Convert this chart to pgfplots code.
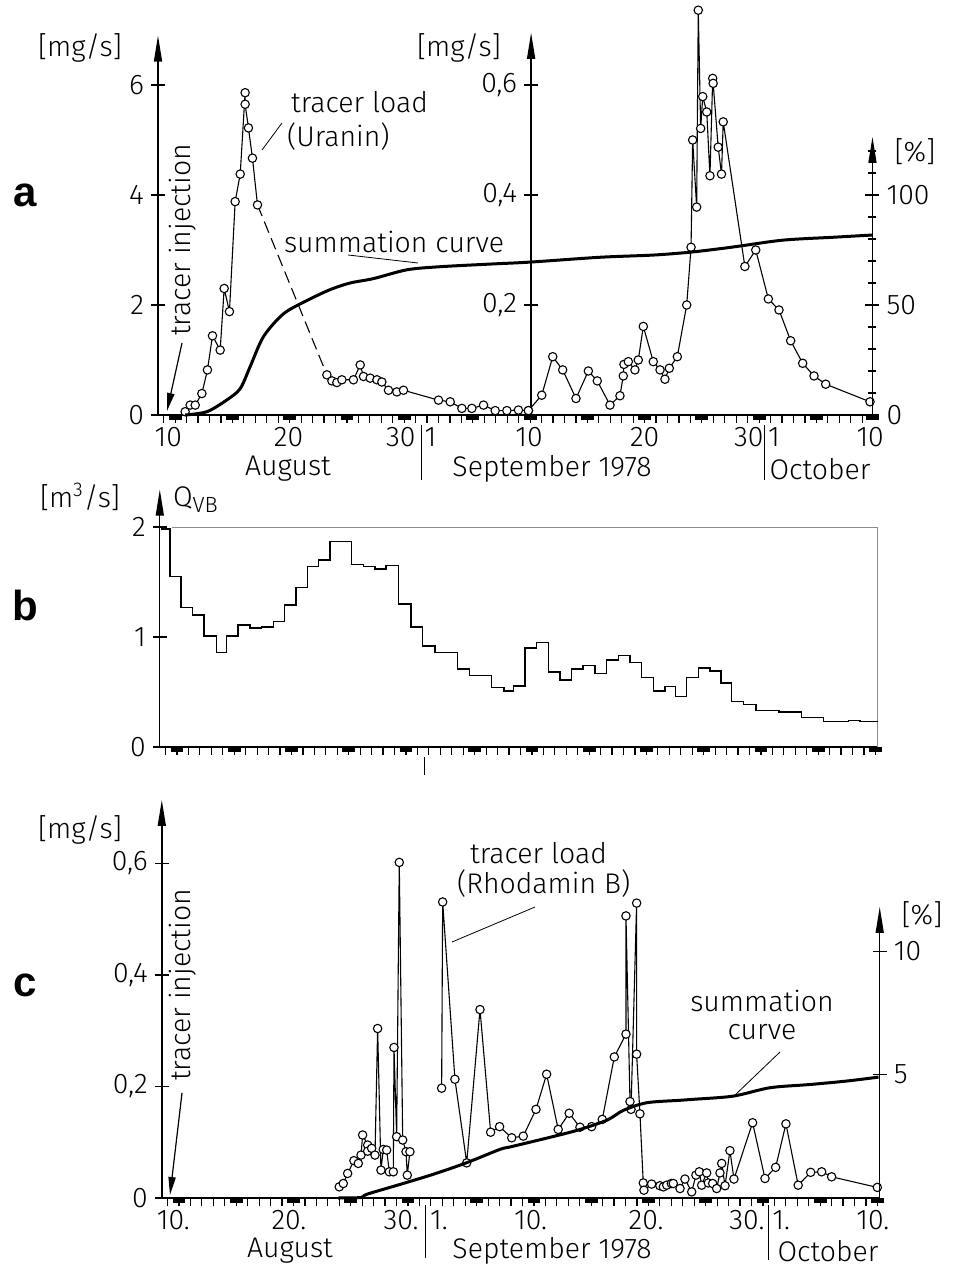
\documentclass[border=0pt]{standalone}
\usepackage{pgfplots}
\pgfplotsset{compat=1.18}
\usetikzlibrary{arrows.meta}
\usepackage{fontspec}
\setmainfont{Fira Sans Light}
\newfontfamily\LS{Liberation Sans}
\newcommand\F{\fontsize{14.2}{17}\selectfont}
\newcommand\BF{\LS\fontsize{21}{21}\selectfont\bfseries}
\pgfdeclareplotmark{daybar}{%
  \pgfpathrectangle{\pgfpoint{-3.2pt}{-2.4pt}}{\pgfpoint{6.4pt}{2.4pt}}%
  \pgfusepathqfill}
\pgfplotsset{
  every axis/.append style={clip=false, x=5.725pt, xmin=8.5, anchor=south west,
    tick label style={font=\F}, axis line style={line width=0.7pt},
    tick style={black, line width=0.6pt},
    /pgf/number format/assume math mode=true},
  xonly/.style={axis y line=none, ytick=\empty, axis x line=bottom, x axis line style={-},
    ymin=0, ymax=1, y=10pt, major tick length=4pt,
    xtick align=outside, xtick={9,...,71}, xticklabels={},
    xticklabel style={inner sep=0.5pt, yshift=-1.5pt},
    extra x tick style={tick style={draw=none}}},
  yleft/.style={axis x line=none, xtick=\empty, axis y line=left,
    y axis line style={-{Triangle[length=13pt,width=4pt]}},
    ytick align=center, major tick length=7pt, minor tick length=4pt, ymin=0},
  yright/.style={axis x line=none, xtick=\empty, axis y line=right,
    y axis line style={-{Triangle[length=13pt,width=4pt]}},
    ytick align=center, major tick length=7pt, minor tick length=4pt, ymin=0},
  dat/.style={black, line width=0.55pt, mark=*, mark size=2.1pt,
    mark options={fill=white, line width=0.55pt, solid}},
  sumc/.style={black, line width=1.5pt, smooth, tension=0.5, no marks},
  bars/.style={only marks, mark=daybar, black},
}
\begin{document}
\begin{tikzpicture}
\path[use as bounding box] (0,0) rectangle (481pt,633pt);

%================ panel a =================
\begin{axis}[xonly, at={(79pt,425.5pt)}, xmax=70.9,
  extra x ticks={9.4,19.9,29.7,32.3,40.9,51,60.1,62.3,70.7},
  extra x tick labels={10,20,30,1,10,20,30,1,10}]
\addplot[bars] coordinates {(10,0)(15,0)(20,0)(25,0)(30,0)(36,0)(41,0)(46,0)(51,0)(56,0)(61,0)(66,0)(70.9,0)};
\end{axis}

\begin{axis}[yleft, at={(79pt,425.5pt)}, xmax=70.9, ymax=6.9, y=27.5pt,
  ytick={0,2,4,6}, yticklabels={0,2,4,6}]
\addplot[dat] coordinates {(10.87,0.06)(11.31,0.18)(11.75,0.18)(12.33,0.39)(12.82,0.82)
 (13.26,1.44)(13.93,1.18)(14.28,2.30)(14.74,1.88)(15.24,3.88)(15.68,4.38)(16.11,5.86)
 (16.11,5.65)(16.40,5.22)(16.75,4.67)(17.19,3.82)};
\addplot[black, line width=0.55pt, dash pattern=on 6pt off 3pt, no marks]
 coordinates {(17.19,3.82)(23.25,0.73)};
\addplot[dat] coordinates {(23.25,0.73)(23.69,0.62)(24.12,0.59)(24.56,0.64)(25.57,0.64)
 (26.16,0.91)(26.45,0.70)(27.03,0.67)(27.62,0.64)(28.05,0.60)(28.63,0.45)(29.36,0.42)
 (29.94,0.45)(33.0,0.27)(34.02,0.24)(35.04,0.12)(35.91,0.12)(36.93,0.18)(37.95,0.08)
 (38.97,0.08)(39.98,0.09)(40.86,0.08)};
\end{axis}

\begin{axis}[yleft, at={(265.55pt,425.5pt)}, xmin=41.1, xmax=70.9, ymax=0.695, y=275pt,
  ytick={0.2,0.4,0.6}, yticklabels={{0,2},{0,4},{0,6}}]
\addplot[dat] coordinates {(40.86,0.008)(42.03,0.036)(42.99,0.106)(43.86,0.082)(45.02,0.030)
 (46.10,0.080)(46.88,0.062)(47.99,0.018)(48.86,0.035)(49.15,0.071)(49.21,0.092)(49.59,0.097)
 (50.17,0.082)(50.46,0.10)(50.90,0.161)(51.77,0.097)(52.36,0.082)(52.79,0.065)(53.17,0.085)
 (53.87,0.106)(54.69,0.20)(55.07,0.305)(55.21,0.50)(55.56,0.378)(55.70,0.736)(55.91,0.521)
 (56.09,0.579)(56.44,0.551)(56.72,0.435)(56.96,0.612)(57.0,0.603)(57.44,0.487)(57.73,0.438)
 (57.88,0.533)(59.77,0.27)(60.72,0.30)(61.82,0.211)(62.75,0.191)(63.77,0.135)(64.82,0.094)
 (65.81,0.071)(66.83,0.056)(70.70,0.024)};
\end{axis}

\begin{axis}[yright, at={(79pt,425.5pt)}, xmax=70.9, ymax=126.4, y=1.1pt,
  ytick={0,50,100}, yticklabels={0,50,100},
  minor ytick={10,20,30,40,60,70,80,90,110,120}]
\addplot[sumc] coordinates {(10.87,0)(12.77,1.5)(14.5,6.8)(15.68,12)(16.55,22)(17.71,35.6)
 (19.46,46)(21.5,52)(23.54,57)(25.28,60)(27.32,62)(30.24,66)(33.14,67.4)(37.51,68.6)
 (41.0,69.5)(47.12,71.7)(51.77,72.7)(54.98,74.0)(57.6,75.6)(59.34,76.8)(63.13,79.5)
 (67.5,80.8)(70.9,81.8)};
\end{axis}

%================ panel b =================
\begin{axis}[xonly, at={(79.9pt,259.5pt)}, xmax=71.2]
\addplot[bars] coordinates {(10,0)(15,0)(20,0)(25,0)(30,0)(36,0)(41,0)(46,0)(51,0)(56,0)(61,0)(66,0)(71,0)};
\end{axis}

\begin{axis}[yleft, at={(79.9pt,259.5pt)}, xmax=71.2, ymax=2.34, y=55pt,
  ytick={0,1,2}, yticklabels={0,1,2}]
\draw[black!45, line width=0.4pt] (axis cs:9.6,2) -- (axis cs:71.2,2) -- (axis cs:71.2,0);
\addplot[const plot, black, line width=0.75pt, no marks] coordinates {
 (8.58,1.98)(9.39,1.55)(10.35,1.27)(11.37,1.20)(12.38,1.01)(13.47,0.86)(14.34,1.01)
 (15.35,1.11)(16.38,1.08)(17.40,1.09)(18.41,1.14)(19.37,1.29)(20.39,1.45)(21.41,1.64)
 (22.34,1.70)(23.36,1.87)(25.26,1.66)(26.27,1.64)(27.29,1.62)(28.25,1.65)(29.33,1.30)
 (30.44,1.09)(31.46,0.92)(32.53,0.86)(34.52,0.71)(35.53,0.65)(37.48,0.54)(38.56,0.51)
 (39.37,0.555)(40.39,0.90)(41.41,0.95)(42.43,0.68)(43.45,0.61)(44.47,0.71)(45.48,0.74)
 (46.51,0.67)(47.53,0.79)(48.54,0.83)(49.56,0.77)(50.59,0.63)(51.6,0.51)(52.62,0.55)
 (53.56,0.46)(54.52,0.63)(55.53,0.72)(56.55,0.69)(57.51,0.58)(58.45,0.415)(59.46,0.385)
 (60.57,0.33)(62.6,0.32)(64.56,0.27)(66.45,0.23)(68.63,0.24)(69.65,0.23)(71.2,0.23)};
\end{axis}

%================ panel c =================
\begin{axis}[xonly, at={(80.9pt,34pt)}, xmax=71.2,
  extra x ticks={9.5,19.6,29.4,32.7,40.7,50.8,59.6,62.6,70.6},
  extra x tick labels={10.,20.,30.,1.,10.,20.,30.,1.,10.}]
\addplot[bars] coordinates {(10,0)(15,0)(20,0)(25,0)(30,0)(36,0)(41,0)(46,0)(51,0)(56,0)(61,0)(66,0)(71,0)};
\end{axis}

\begin{axis}[yleft, at={(80.9pt,34pt)}, xmax=71.2, ymax=0.714, y=278.75pt,
  ytick={0,0.2,0.4,0.6}, yticklabels={0,{0,2},{0,4},{0,6}}, unbounded coords=jump]
\addplot[dat] coordinates {(24.0,0.020)(24.35,0.026)(24.73,0.044)(25.28,0.067)(25.66,0.062)
 (25.9,0.077)(26.04,0.113)(26.48,0.095)(26.48,0.084)(26.83,0.089)(27.12,0.077)(27.35,0.304)
 (27.64,0.050)(27.84,0.087)(28.14,0.086)(28.37,0.047)(28.72,0.047)(28.78,0.270)(29.01,0.110)
 (29.24,0.602)(29.54,0.104)(29.83,0.083)(29.94,0.041)(30.17,0.083)(31.5,nan)
 (32.94,0.197)(33.03,0.531)(34.1,0.213)(35.13,0.063)(36.29,0.338)(37.22,0.118)(38.0,0.128)
 (39.06,0.108)(40.07,0.111)(41.18,0.159)(42.11,0.222)(43.12,0.123)(44.08,0.152)(45.02,0.127)
 (46.04,0.128)(46.97,0.141)(48.02,0.253)(49.04,0.294)(49.04,0.506)(49.39,0.173)(49.48,0.159)
 (49.97,0.529)(49.97,0.258)(50.26,0.151)(50.55,0.027)(50.61,0.014)(51.28,0.025)(52.0,0.022)
 (52.3,0.020)(52.6,0.023)(53.0,0.026)(53.17,0.026)(53.76,0.017)(54.19,0.034)(54.78,0.011)
 (55.15,0.041)(55.44,0.047)(55.65,0.023)(56.09,0.045)(56.23,0.027)(56.61,0.026)(56.96,0.017)
 (57.25,0.045)(57.4,0.062)(57.69,0.022)(58.12,0.085)(58.47,0.034)(60.1,0.135)(61.18,0.035)
 (62.11,0.055)(63.01,0.133)(64.08,0.023)(65.17,0.046)(66.13,0.047)(67.0,0.038)(70.99,0.019)};
\end{axis}

\begin{axis}[yright, at={(80.9pt,34pt)}, xmax=71.2, ymax=11.8, y=12.335pt,
  ytick={5,10}, yticklabels={5,10}]
\addplot[sumc] coordinates {(23.9,0)(25.9,0.02)(26.4,0.15)(29.3,0.55)(32.2,0.96)(35.13,1.43)
 (38.03,1.97)(39.2,2.1)(44.44,2.7)(47.35,3.15)(48.8,3.55)(50.84,3.86)(53.76,3.96)(54.92,4.0)
 (58.41,4.13)(61.62,4.47)(65.1,4.6)(68.3,4.74)(71.1,4.9)};
\end{axis}

%================ annotations (pixel frame) =================
\begin{scope}[x=0.5pt, y=-0.5pt, shift={(0,633pt)}]
 % panel a
 \node[font=\F] at (80,48) {[mg/s]};
 \node[font=\F] at (459,48) {[mg/s]};
 \node[font=\F] at (915,152) {[\%]};
 \node[font=\BF] at (25,195) {a};
 \node[font=\F, anchor=west] at (284,102) {tracer load};
 \node[font=\F, anchor=west] at (280,137) {(Uranin)};
 \draw[line width=0.4pt] (282,123) -- (262,150);
 \node[font=\F, anchor=west] at (277,242) {summation curve};
 \draw[line width=0.4pt] (348,255) -- (418,263);
 \node[font=\F, rotate=90] at (183,240) {tracer injection};
 \draw[line width=0.6pt, -{Triangle[length=9pt,width=3.6pt]}] (182,343) -- (167,411);
 \draw[line width=0.5pt] (421,425) -- (421,480);
 \draw[line width=0.5pt] (764,425) -- (764,480);
 \node[font=\F, inner sep=0.5pt] at (288,469) {August};
 \node[font=\F, inner sep=0.5pt] at (552,469) {September 1978};
 \node[font=\F, inner sep=0.5pt] at (820,469) {October};
 % panel b
 \node[font=\F] at (80,497) {[m\textsuperscript{3}/s]};
 \node[font=\F, anchor=west] at (166,500) {Q\raisebox{-3pt}{\fontsize{11}{11}\selectfont VB}};
 \node[font=\BF] at (25,605) {b};
 \draw[line width=0.5pt] (424,757) -- (424,775);
 % panel c
 \node[font=\F] at (80,830) {[mg/s]};
 \node[font=\F] at (922,915) {[\%]};
 \node[font=\BF] at (25,985) {c};
 \node[font=\F, anchor=west] at (463,853) {tracer load};
 \node[font=\F, anchor=west] at (450,884) {(Rhodamin B)};
 \draw[line width=0.4pt] (452,942) -- (535,907);
 \node[font=\fontsize{14.2}{14}\selectfont, align=center] at (762,1015) {summation\\curve};
 \draw[line width=0.4pt] (780,1052) -- (733,1097);
 \node[font=\F, rotate=90] at (183,985) {tracer injection};
 \draw[line width=0.6pt, -{Triangle[length=9pt,width=3.6pt]}] (182,1093) -- (170,1195);
 \draw[line width=0.5pt] (425,1205) -- (425,1258);
 \draw[line width=0.5pt] (768,1205) -- (768,1260);
 \node[font=\F, inner sep=0.5pt] at (290,1251) {August};
 \node[font=\F, inner sep=0.5pt] at (552,1251) {September 1978};
 \node[font=\F, inner sep=0.5pt] at (828,1251) {October};
\end{scope}
\end{tikzpicture}
\end{document}
